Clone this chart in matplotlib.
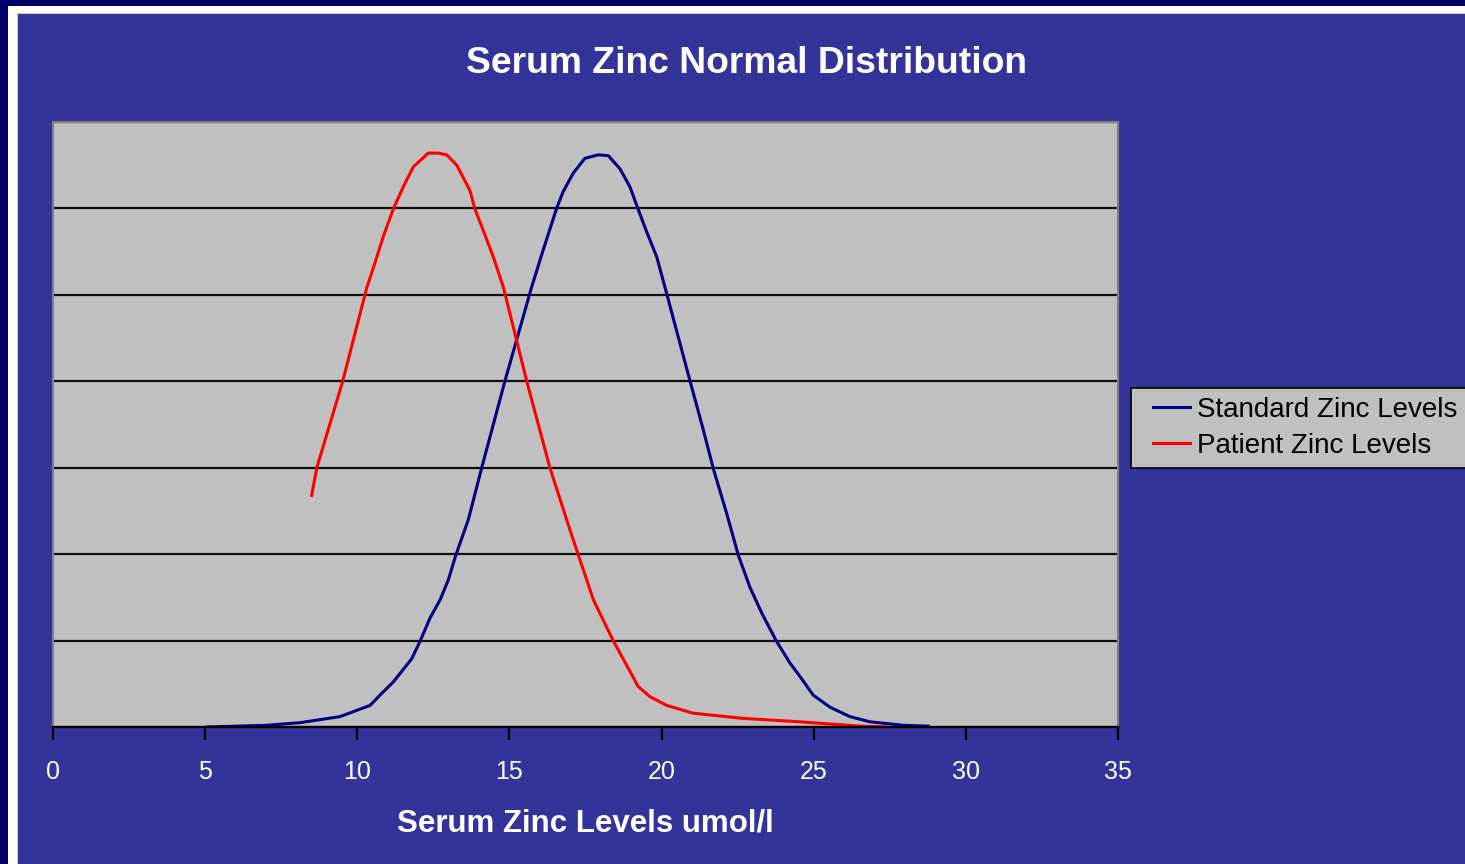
import matplotlib.pyplot as plt
from matplotlib.patches import Rectangle
from matplotlib.legend_handler import HandlerLine2D
import numpy as np

# values (y as fraction, gridline step 0.01)
std_x = [5.06, 7.03, 8.12, 9.43, 10.42, 10.75, 11.18, 11.79, 12.06, 12.39, 12.72, 12.99,
         13.24, 13.65, 14.09, 14.85, 15.73, 16.11, 16.55, 16.76, 17.10, 17.48,
         17.92, 18.25, 18.63, 18.96, 19.23, 19.51, 19.84, 20.11, 20.93, 21.37, 21.70,
         22.14, 22.52, 22.90, 23.29, 23.78, 24.22, 24.60, 24.98, 25.53, 26.19, 26.85,
         27.94, 28.76]
std_y = [0.0, 0.0002, 0.0005, 0.0012, 0.0025, 0.0037, 0.0052, 0.0079, 0.0099, 0.0126,
         0.0147, 0.0170, 0.0199, 0.0240, 0.0300, 0.0400, 0.0509, 0.0552, 0.0600,
         0.0619, 0.0641, 0.0658, 0.0662, 0.0661, 0.0646, 0.0625, 0.0599, 0.0573, 0.0544,
         0.0509, 0.0401, 0.0344, 0.0299, 0.0247, 0.0199, 0.0162, 0.0132, 0.0099, 0.0074,
         0.0056, 0.0037, 0.0023, 0.0012, 0.0006, 0.0002, 0.0001]

pat_x = [8.5, 8.67, 9.52, 10.31, 10.58, 10.85, 11.18, 11.51, 11.84, 12.33, 12.66, 12.94,
         13.27, 13.70, 13.87, 14.20, 14.47, 14.80, 15.57, 16.33, 16.99, 17.76, 18.41,
         19.23, 19.62, 20.17, 21.03, 22.67, 24.55, 26.52, 27.4]
pat_y = [0.0268, 0.0300, 0.0400, 0.0508, 0.0537, 0.0567, 0.0599, 0.0625, 0.0648, 0.0664,
         0.0664, 0.0662, 0.0650, 0.0621, 0.0599, 0.0569, 0.0544, 0.0509, 0.0400, 0.0300,
         0.0228, 0.0147, 0.0100, 0.0047, 0.0035, 0.0025, 0.0016, 0.0010, 0.0006, 0.0001,
         0.0]

x_ticks = [0, 5, 10, 15, 20, 25, 30, 35]

W, H = 1465, 864
fig = plt.figure(figsize=(W / 100, H / 100), dpi=100)
fig.patch.set_facecolor('#000066')
plt.rcParams['font.family'] = ['Liberation Sans', 'DejaVu Sans']

# white frame and blue slide background
fig.add_artist(Rectangle((8 / W, 0), 1, 1 - 6 / H, transform=fig.transFigure,
                         facecolor='white', edgecolor='none', zorder=-3))
fig.add_artist(Rectangle((17 / W, 0), 1, 1 - 13 / H, transform=fig.transFigure,
                         facecolor='#C8C8D8', edgecolor='none', zorder=-2))
fig.add_artist(Rectangle((18 / W, 0), 1, 1 - 14 / H, transform=fig.transFigure,
                         facecolor='#333399', edgecolor='none', zorder=-1))

ax = fig.add_axes([53 / W, 1 - 727 / H, (1118 - 53) / W, (727 - 122) / H])
ax.set_facecolor('#C0C0C0')

ax.plot(std_x, std_y, color='#000080', lw=2.2, label='Standard Zinc Levels')
ax.plot(pat_x, pat_y, color='#FF0000', lw=2.2, label='Patient Zinc Levels')

ax.set_xlim(0, 35)
ax.set_ylim(0, 0.07)
ax.set_xticks(x_ticks)
ax.set_yticks(np.arange(0, 0.071, 0.01))
ax.yaxis.grid(True, color='#111111', lw=1.6)
ax.set_axisbelow(True)
ax.tick_params(axis='y', left=False, labelleft=False)
ax.tick_params(axis='x', direction='out', length=9, width=1.6, color='black',
               labelcolor='white', labelsize=18, pad=15)

for s in ['top', 'left', 'right']:
    ax.spines[s].set_color('#808080')
    ax.spines[s].set_linewidth(1.5)
ax.spines['bottom'].set_color('black')
ax.spines['bottom'].set_linewidth(1.6)

fig.text(585 / W, 1 - 832 / H, 'Serum Zinc Levels umol/l', color='white',
         fontsize=22.5, fontweight='bold', ha='center', va='baseline')
fig.text(746 / W, 1 - 73 / H, 'Serum Zinc Normal Distribution', color='white',
         fontsize=26.8, fontweight='bold', ha='center', va='baseline')

leg = ax.legend(loc='upper left', bbox_to_anchor=(1131 / W, 1 - 388 / H),
                bbox_transform=fig.transFigure, frameon=True, fancybox=False,
                facecolor='#C0C0C0', edgecolor='black', framealpha=1,
                fontsize=20, handlelength=1.79, handletextpad=0.25,
                borderpad=0.33, labelspacing=0.36, borderaxespad=0,
                handler_map={plt.Line2D: HandlerLine2D(xpad=0.46)})
leg.get_frame().set_linewidth(1.2)

fig.savefig('out.png', dpi=100, facecolor=fig.get_facecolor())
